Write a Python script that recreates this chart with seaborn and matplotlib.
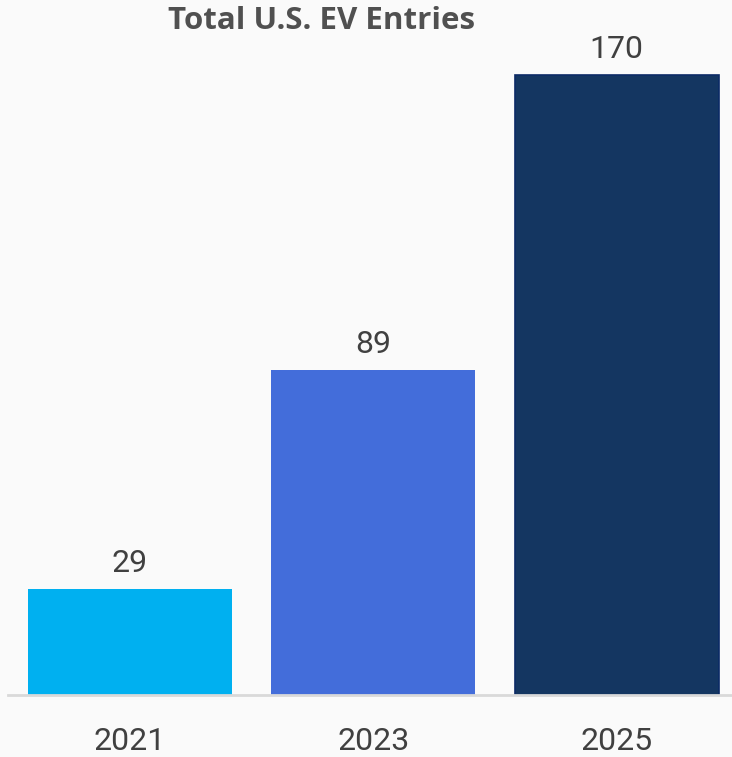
import matplotlib
matplotlib.use("Agg")
import matplotlib.pyplot as plt
import seaborn as sns
import pandas as pd

years = ["2021", "2023", "2025"]
entries = [29, 89, 170]
bar_colors = ["#00B0F0", "#436DDA", "#143661"]
title = "Total U.S. EV Entries"

sns.set_theme(style="white")
plt.rcParams["font.family"] = ["Roboto", "DejaVu Sans"]

W, H = 732, 757
fig = plt.figure(figsize=(W / 100, H / 100), dpi=100, facecolor="#FAFAFA")
ax = fig.add_axes([8 / W, 62 / H, 724 / W, 655 / H])
ax.set_facecolor("#FAFAFA")

df = pd.DataFrame({"year": years, "entries": entries})
sns.barplot(data=df, x="year", y="entries", hue="year",
            palette=dict(zip(years, bar_colors)), width=0.838,
            legend=False, ax=ax, saturation=1)

for p in ax.patches:
    p.set_linewidth(0)
ax.patches[2].set_edgecolor("#0B2A66")
ax.patches[2].set_linewidth(1.2)

for p, v in zip(ax.patches, entries):
    ax.annotate(str(v), (p.get_x() + p.get_width() / 2, p.get_height()),
                xytext=(0, 8), textcoords="offset points",
                ha="center", va="bottom", fontsize=23, color="#404040")

ax.set_xlim(-0.5, -0.5 + 724 / 243.5)
ax.set_ylim(0, 655 / 3.647)
ax.set_xlabel("")
ax.set_ylabel("")
ax.set_yticks([])
ax.tick_params(axis="x", length=0, labelsize=23, colors="#404040", pad=23)
for s in ["top", "right", "left"]:
    ax.spines[s].set_visible(False)
ax.spines["bottom"].set_color("#D9D9D9")
ax.spines["bottom"].set_linewidth(2)

fig.text(322 / W, 1 - 21 / H, title, ha="center", va="center",
         fontsize=22.5, fontweight="bold", color="#505050",
         family=["Open Sans", "DejaVu Sans"])

fig.savefig("out.png", dpi=100, facecolor=fig.get_facecolor())
